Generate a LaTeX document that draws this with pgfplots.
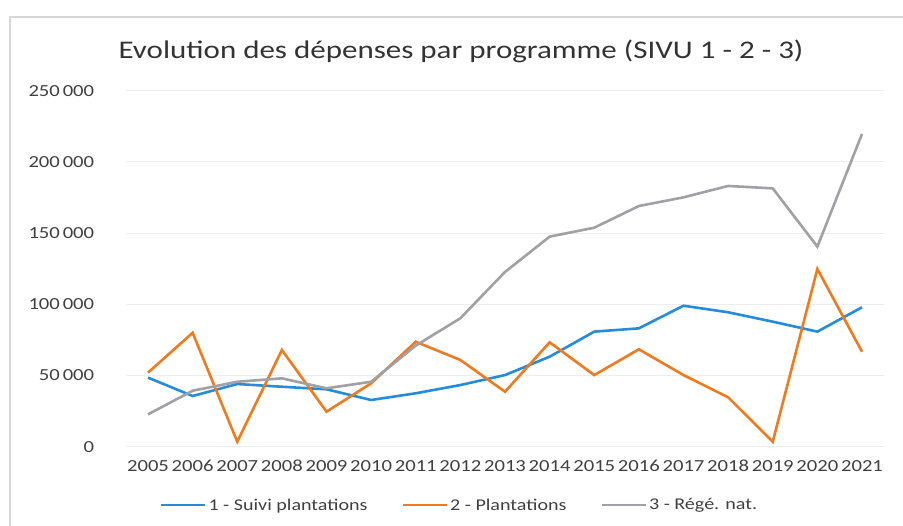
\documentclass[border=0pt]{standalone}
\usepackage{fontspec}
\setmainfont[FakeStretch=1.22]{Carlito}
\usepackage{pgfplots}
\usepackage{pgfplotstable}
\pgfplotsset{compat=1.18}
\definecolor{cblue}{RGB}{36,140,218}
\definecolor{corange}{RGB}{240,122,30}
\definecolor{cgray}{RGB}{160,160,166}
\definecolor{ctext}{RGB}{64,64,64}
\pgfplotstableread{
x year suivi plant rege
0 2005 48500 52000 22700
1 2006 35600 80000 39300
2 2007 44000 3500 45600
3 2008 42100 67900 48000
4 2009 40300 24600 41000
5 2010 32800 44500 45600
6 2011 37500 73700 71000
7 2012 43300 60900 90200
8 2013 50300 38600 122700
9 2014 63200 73300 147500
10 2015 80800 50300 153800
11 2016 83100 68400 169000
12 2017 99000 50300 175100
13 2018 94400 34700 183100
14 2019 87800 3500 181400
15 2020 80800 124800 140500
16 2021 97900 66700 219600
}\data
\begin{document}
\begin{tikzpicture}[x=1bp,y=1bp]
\path[use as bounding box] (0,0) rectangle (903,526);
\draw[black!16, line width=1.5bp] (10,-2) -- (10,509) -- (905,509);
\node[font=\fontsize{25.5}{30}\selectfont, text=black!80] at (461,475) {Evolution des dépenses par programme (SIVU 1 - 2 - 3)};
\begin{axis}[
  at={(125.7bp,79.3bp)}, anchor=south west,
  scale only axis, width=758.6bp, height=356bp,
  xmin=-0.5, xmax=16.5, ymin=0, ymax=250000,
  scaled y ticks=false,
  axis line style={draw=none}, tick style={draw=none},
  xtick={0,...,16},
  xticklabels={2005,2006,2007,2008,2009,2010,2011,2012,2013,2014,2015,2016,2017,2018,2019,2020,2021},
  ytick={0,50000,100000,150000,200000,250000},
  yticklabels={0,50\,000,100\,000,150\,000,200\,000,250\,000},
  ymajorgrids, grid style={black!7, line width=0.8bp},
  ticklabel style={font=\fontsize{17}{20}\selectfont, text=ctext},
  yticklabel style={anchor=east, xshift=-28bp},
  xticklabel style={anchor=center, yshift=-19bp},
  legend columns=3,
  legend style={at={(0.44,-0.164)}, anchor=center, draw=none, fill=none,
    font=\fontsize{16.5}{19}\selectfont, text=ctext,
    /tikz/every even column/.append style={column sep=32bp}},
  legend image code/.code={\draw[#1, line width=2.6bp] (0bp,0bp) -- (44bp,0bp);},
]
\addplot[cblue, line width=2.6bp] table[x=x, y=suivi] {\data};
\addlegendentry{1 - Suivi plantations}
\addplot[corange, line width=2.6bp] table[x=x, y=plant] {\data};
\addlegendentry{2 - Plantations}
\addplot[cgray, line width=2.6bp] table[x=x, y=rege] {\data};
\addlegendentry{3 - Régé. nat.}
\end{axis}
\end{tikzpicture}
\end{document}
